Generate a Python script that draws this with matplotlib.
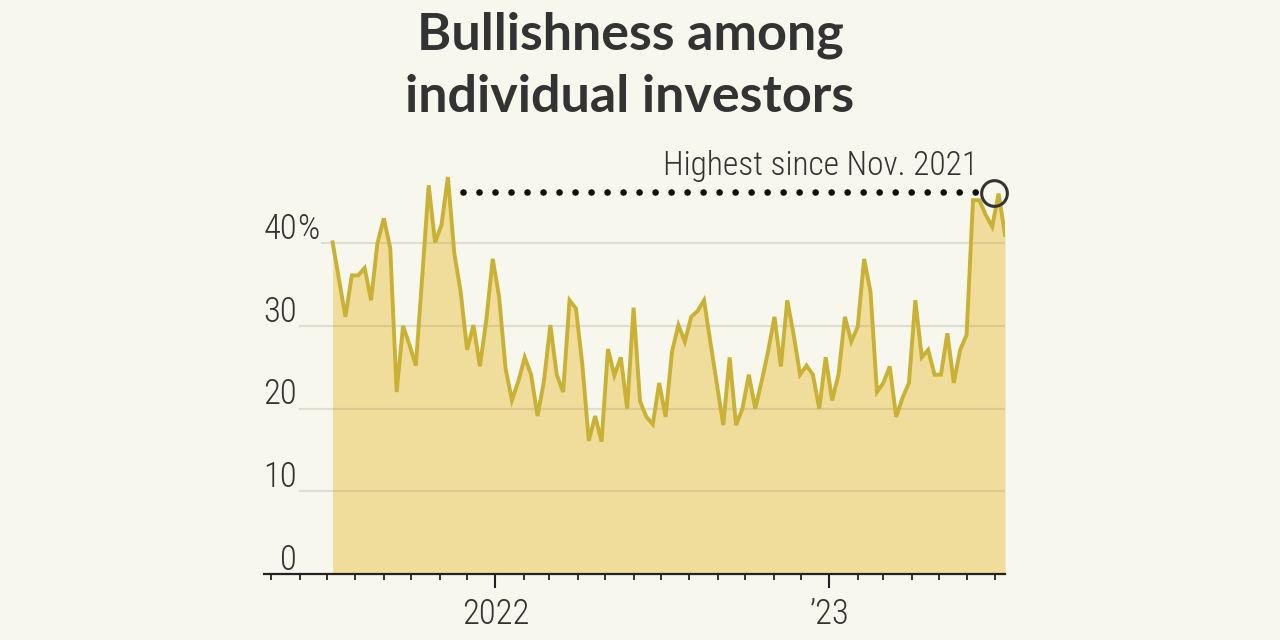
import matplotlib
matplotlib.use("Agg")
import matplotlib.pyplot as plt
import matplotlib.dates as mdates
import matplotlib.transforms as mtransforms
from matplotlib import font_manager
import numpy as np
import pandas as pd

# ---- data (AAII bullish share, weekly) ----
start_date = "2021-07-07"
bullish = [40.1, 35.6, 31.1, 36.1, 36.1, 37.0, 33.1, 40.0, 43.0, 39.4,
           22.0, 30.0, 27.7, 25.2, 36.0, 47.0, 40.1, 42.2, 48.0, 38.8,
           34.1, 27.1, 30.1, 25.1, 30.7, 38.1, 33.5, 24.9, 21.0, 23.3,
           26.2, 24.1, 19.1, 23.3, 30.1, 24.1, 22.0, 33.1, 32.1, 25.3,
           16.1, 19.1, 16.0, 27.2, 24.0, 26.2, 20.0, 32.2, 20.9, 19.0,
           18.1, 23.1, 19.0, 26.9, 30.1, 28.1, 31.1, 31.8, 33.1, 28.0,
           23.0, 18.0, 26.2, 18.0, 20.0, 24.1, 20.0, 23.3, 26.9, 31.1,
           25.1, 33.1, 28.9, 24.1, 25.2, 24.1, 20.0, 26.2, 21.0, 24.1,
           31.1, 28.1, 29.9, 38.1, 34.1, 22.0, 23.1, 25.1, 19.0, 21.3,
           23.1, 33.1, 26.2, 27.1, 24.1, 24.1, 29.1, 23.1, 27.1, 28.9,
           45.2, 45.2, 43.4, 42.0, 46.0, 41.0]
dates = pd.date_range(start_date, periods=len(bullish), freq="7D")
values = np.array(bullish)

title_lines = ["Bullishness among", "individual investors"]
annotation = "Highest since Nov. 2021"
y_ticks = [0, 10, 20, 30, 40]
x_major = ["2022-01-01", "2023-01-01"]
x_major_labels = ["2022", "\u201923"]

# ---- fonts: pick a narrow family if one is installed ----
names = {f.name for f in font_manager.fontManager.ttflist}
narrow_family = None
narrow_stretch = "normal"
for cand in ["Liberation Sans Narrow", "Roboto Condensed", "Open Sans Condensed",
             "Noto Sans Condensed", "DejaVu Sans Condensed"]:
    if cand in names:
        narrow_family = cand
        break
if narrow_family is None:
    cond = [f for f in font_manager.fontManager.ttflist
            if f.name in ("Roboto", "Open Sans", "Noto Sans", "DejaVu Sans")
            and str(f.stretch) in ("condensed", "semi-condensed", "extra-condensed", "75", "87", "62")]
    if cond:
        narrow_family = cond[0].name
        narrow_stretch = str(cond[0].stretch)
    else:
        narrow_family = "Roboto" if "Roboto" in names else "DejaVu Sans"
NARROW = [narrow_family, "DejaVu Sans"]

# ---- style ----
BG = "#f8f7ed"
LINE = "#c9b135"
FILL = "#f1dd9b"
TXT = "#333333"
FS_TICK = 25
txt_kw = dict(color=TXT, family=NARROW, stretch=narrow_stretch, fontweight="light")

fig = plt.figure(figsize=(12.8, 6.4), dpi=100, facecolor=BG)
ax = fig.add_axes([264 / 1280, 1 - 574 / 640, 741 / 1280, (574 - 160.5) / 640])
ax.set_facecolor(BG)
ax.patch.set_alpha(0)

x_left = pd.Timestamp("2021-04-23")
ax.set_xlim(x_left, dates[-1])
ax.set_ylim(0, 50)

ax.fill_between(dates, 0, values, color=FILL, lw=0, zorder=1)

for v in y_ticks[1:]:
    xmin = 0.078 if v == 40 else 0.048
    ax.axhline(v, xmin=xmin, xmax=1, color="#8a8670", alpha=0.22, lw=1.6, zorder=2)

ax.plot(dates, values, color=LINE, lw=2.8, solid_joinstyle="miter", zorder=3)

trans = mtransforms.blended_transform_factory(fig.transFigure, ax.transData)
for v in y_ticks:
    ax.text(297 / 1280, v - 0.35, f"{v}", transform=trans, ha="right", va="bottom",
            fontsize=FS_TICK, **txt_kw)
    if v == 40:
        ax.text(297 / 1280, v - 0.35, "%", transform=trans, ha="left", va="bottom",
                fontsize=FS_TICK, **txt_kw)

for s in ["top", "right", "left"]:
    ax.spines[s].set_visible(False)
ax.spines["bottom"].set_color("#222222")
ax.spines["bottom"].set_linewidth(1.6)
ax.set_yticks([])
ax.xaxis.set_minor_locator(mdates.MonthLocator())
ax.set_xticks(pd.to_datetime(x_major))
ax.set_xticklabels(x_major_labels)
ax.tick_params(axis="x", which="major", length=10, width=1.5, color="#222222",
               pad=7, labelsize=FS_TICK, labelcolor=TXT)
ax.tick_params(axis="x", which="minor", length=4.5, width=1.3, color="#222222")
for lab in ax.get_xticklabels():
    lab.set_family(NARROW)
    lab.set_stretch(narrow_stretch)
    lab.set_fontweight("light")

i_prev = int(np.argmax(values[:50]))
i_now = len(values) - 2
ax.plot([dates[i_prev] + pd.Timedelta(days=17), dates[i_now] - pd.Timedelta(days=22)],
        [values[i_now] + 0.2, values[i_now] + 0.2], color="#111111", lw=4.8,
        linestyle=(0, (0.001, 2.4)), dash_capstyle="round", zorder=4, clip_on=False)
ax.plot([dates[i_now] - pd.Timedelta(days=5)], [values[i_now] + 0.1], marker="o",
        markersize=18.5, markerfacecolor="none", markeredgecolor="#333333",
        markeredgewidth=2.2, zorder=5, clip_on=False)
ax.text(dates[i_now] - pd.Timedelta(days=22), 48.3, annotation, ha="right", va="baseline",
        fontsize=24, clip_on=False, **txt_kw)

fig.text(630 / 1280, 1 - 35 / 640, title_lines[0], ha="center", va="center",
         fontsize=37.5, fontweight="bold", color=TXT, family=["Lato", "DejaVu Sans"])
fig.text(630 / 1280, 1 - 97 / 640, title_lines[1], ha="center", va="center",
         fontsize=37.5, fontweight="bold", color=TXT, family=["Lato", "DejaVu Sans"])

fig.savefig("out.png", dpi=100, facecolor=BG)
